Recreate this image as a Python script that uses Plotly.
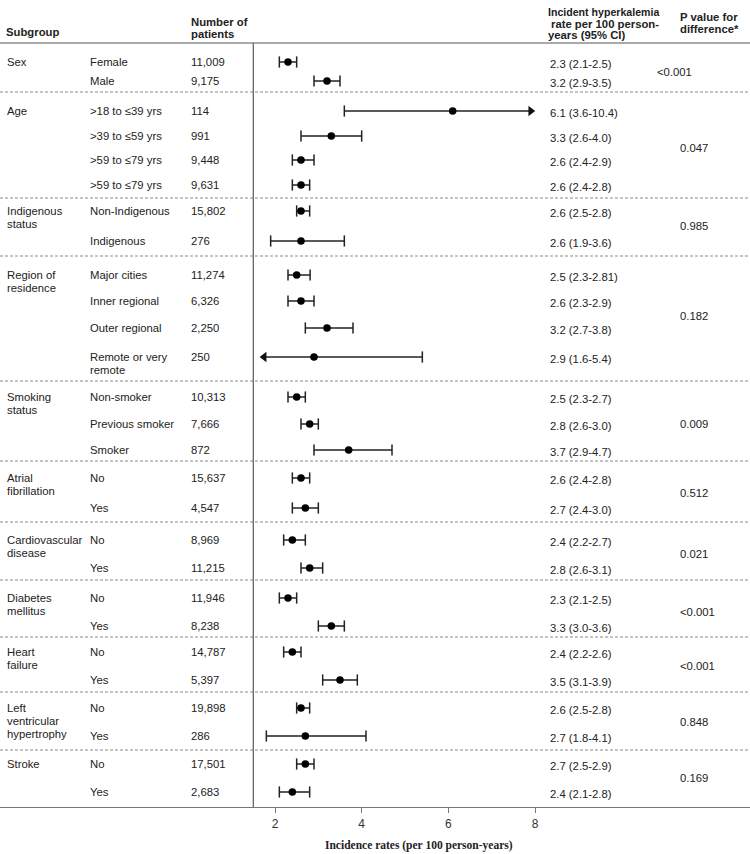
import plotly.graph_objects as go

# ---------------- data ----------------
GROUP_LABELS = [["Sex"], ["Age"], ["Indigenous", "status"], ["Region of", "residence"],
                ["Smoking", "status"], ["Atrial", "fibrillation"], ["Cardiovascular", "disease"],
                ["Diabetes", "mellitus"], ["Heart", "failure"],
                ["Left", "ventricular", "hypertrophy"], ["Stroke"]]
P_VALUES = ["<0.001", "0.047", "0.985", "0.182", "0.009", "0.512", "0.021",
            "<0.001", "<0.001", "0.848", "0.169"]

ROW_GROUP = [0, 0, 1, 1, 1, 1, 2, 2, 3, 3, 3, 3, 4, 4, 4, 5, 5, 6, 6, 7, 7, 8, 8, 9, 9, 10, 10]
SUBGROUPS = [["Female"], ["Male"], [">18 to \u226439 yrs"], [">39 to \u226459 yrs"],
             [">59 to \u226479 yrs"], [">59 to \u226479 yrs"], ["Non-Indigenous"], ["Indigenous"],
             ["Major cities"], ["Inner regional"], ["Outer regional"], ["Remote or very", "remote"],
             ["Non-smoker"], ["Previous smoker"], ["Smoker"], ["No"], ["Yes"], ["No"], ["Yes"],
             ["No"], ["Yes"], ["No"], ["Yes"], ["No"], ["Yes"], ["No"], ["Yes"]]
N_PATIENTS = ["11,009", "9,175", "114", "991", "9,448", "9,631", "15,802", "276",
              "11,274", "6,326", "2,250", "250", "10,313", "7,666", "872", "15,637", "4,547",
              "8,969", "11,215", "11,946", "8,238", "14,787", "5,397", "19,898", "286",
              "17,501", "2,683"]
RATE = [2.3, 3.2, 6.1, 3.3, 2.6, 2.6, 2.6, 2.6, 2.5, 2.6, 3.2, 2.9, 2.5, 2.8, 3.7,
        2.6, 2.7, 2.4, 2.8, 2.3, 3.3, 2.4, 3.5, 2.6, 2.7, 2.7, 2.4]
CI_LO = [2.1, 2.9, 3.6, 2.6, 2.4, 2.4, 2.5, 1.9, 2.3, 2.3, 2.7, 1.6, 2.3, 2.6, 2.9,
         2.4, 2.4, 2.2, 2.6, 2.1, 3.0, 2.2, 3.1, 2.5, 1.8, 2.5, 2.1]
CI_HI = [2.5, 3.5, 10.4, 4.0, 2.9, 2.8, 2.8, 3.6, 2.81, 2.9, 3.8, 5.4, 2.7, 3.0, 4.7,
         2.8, 3.0, 2.7, 3.1, 2.5, 3.6, 2.6, 3.9, 2.8, 4.1, 2.9, 2.8]
CI_TEXT = ["2.3 (2.1-2.5)", "3.2 (2.9-3.5)", "6.1 (3.6-10.4)", "3.3 (2.6-4.0)", "2.6 (2.4-2.9)",
           "2.6 (2.4-2.8)", "2.6 (2.5-2.8)", "2.6 (1.9-3.6)", "2.5 (2.3-2.81)", "2.6 (2.3-2.9)",
           "3.2 (2.7-3.8)", "2.9 (1.6-5.4)", "2.5 (2.3-2.7)", "2.8 (2.6-3.0)", "3.7 (2.9-4.7)",
           "2.6 (2.4-2.8)", "2.7 (2.4-3.0)", "2.4 (2.2-2.7)", "2.8 (2.6-3.1)", "2.3 (2.1-2.5)",
           "3.3 (3.0-3.6)", "2.4 (2.2-2.6)", "3.5 (3.1-3.9)", "2.6 (2.5-2.8)", "2.7 (1.8-4.1)",
           "2.7 (2.5-2.9)", "2.4 (2.1-2.8)"]
X_TICKS = [2, 4, 6, 8]
X_TITLE = "Incidence rates (per 100 person-years)"

# ---------------- layout constants (pixels) ----------------
TEXT_PAD = 2            # annotation inner padding
W, H = 750, 854
PLOT_BOTTOM = 807
PX_AT_2, PX_AT_8 = 275.0, 535.0
SCALE = (PX_AT_8 - PX_AT_2) / 6.0
X_RANGE = [2 - PX_AT_2 / SCALE, 8 + (W - PX_AT_8) / SCALE]
AXIS_X = 1.5
CLIP_LO, CLIP_HI = 1.75, 7.9

ROW_Y = [62, 81, 111, 136, 160, 185, 211, 241, 275, 301, 328, 357, 397, 424, 450, 478, 508,
         540, 568, 598, 626, 652, 680, 708, 736, 764, 792]
SEP_Y = [92, 198, 256, 381, 461, 522, 580, 637, 692, 750]
HEADER_LINE_Y = 43
LINE_GAP = 13

COL_GROUP, COL_SUB, COL_N, COL_CI, COL_P = 7, 90, 191, 550, 680
FONT = "Arial, Liberation Sans, sans-serif"
TXT = "#222222"
FS = 11.3

fig = go.Figure()

# CI segments, caps and arrows
seg_x, seg_y, cap_x, cap_y = [], [], [], []
arr_r_x, arr_r_y, arr_l_x, arr_l_y = [], [], [], []
for lo, hi, y in zip(CI_LO, CI_HI, ROW_Y):
    a = max(lo, CLIP_LO)
    b = min(hi, CLIP_HI)
    seg_x += [a, b, None]
    seg_y += [y, y, None]
    if lo >= CLIP_LO:
        cap_x.append(lo); cap_y.append(y)
    else:
        arr_l_x.append(CLIP_LO); arr_l_y.append(y)
    if hi <= CLIP_HI:
        cap_x.append(hi); cap_y.append(y)
    else:
        arr_r_x.append(CLIP_HI); arr_r_y.append(y)

fig.add_trace(go.Scatter(x=seg_x, y=seg_y, mode="lines",
                         line=dict(color="#222222", width=1.5), hoverinfo="skip"))
fig.add_trace(go.Scatter(x=cap_x, y=cap_y, mode="markers",
                         marker=dict(symbol="line-ns", size=8,
                                     line=dict(color="#222222", width=1.5)), hoverinfo="skip"))
fig.add_trace(go.Scatter(x=arr_r_x, y=arr_r_y, mode="markers",
                         marker=dict(symbol="triangle-right", size=9, color="#111111")))
fig.add_trace(go.Scatter(x=arr_l_x, y=arr_l_y, mode="markers",
                         marker=dict(symbol="triangle-left", size=9, color="#111111")))
fig.add_trace(go.Scatter(x=RATE, y=ROW_Y, mode="markers",
                         marker=dict(symbol="circle", size=7.5, color="#000000")))

ann = []


def txt(x_px, y_px, s, bold=False, size=FS, family=FONT, xanchor="left"):
    ann.append(dict(x=(x_px - TEXT_PAD) / W, xref="paper", y=y_px, yref="y",
                    text=("<b>%s</b>" % s) if bold else s,
                    showarrow=False, xanchor=xanchor, yanchor="middle",
                    font=dict(family=family, size=size, color=TXT)))


# headers
txt(6, 32, "Subgroup", bold=True)
txt(COL_N, 21.5, "Number of", bold=True)
txt(COL_N, 34, "patients", bold=True)
txt(548, 11.5, "Incident hyperkalemia", bold=True, size=10.6)
txt(551, 23.5, "rate per 100 person-", bold=True)
txt(548, 35, "years (95% CI)", bold=True)
txt(COL_P, 17, "P value for", bold=True)
txt(COL_P, 29, "difference*", bold=True)

# group labels and p-values
for g, (lines, p) in enumerate(zip(GROUP_LABELS, P_VALUES)):
    ys = [ROW_Y[i] for i, gg in enumerate(ROW_GROUP) if gg == g]
    for k, line in enumerate(lines):
        txt(COL_GROUP, ys[0] + k * LINE_GAP, line)
    px = COL_P - 23 if g == 0 else COL_P
    txt(px, (ys[0] + ys[-1]) / 2.0, p)

# row texts
for i, y in enumerate(ROW_Y):
    for k, line in enumerate(SUBGROUPS[i]):
        txt(COL_SUB, y + k * LINE_GAP, line)
    txt(COL_N, y, N_PATIENTS[i])
    txt(COL_CI, y + 1.5, CI_TEXT[i])

# axis title (below the plot area)
ann.append(dict(x=419 / W, xref="paper", y=-(845 - PLOT_BOTTOM) / PLOT_BOTTOM, yref="paper",
                text="<b>%s</b>" % X_TITLE, showarrow=False, xanchor="center", yanchor="middle",
                font=dict(family="Times New Roman, Liberation Serif, serif", size=11.5, color="#222222")))

shapes = [dict(type="line", xref="paper", x0=0, x1=1, yref="y", y0=HEADER_LINE_Y, y1=HEADER_LINE_Y,
               line=dict(color="#555555", width=1))]
for sy in SEP_Y:
    shapes.append(dict(type="line", xref="paper", x0=0, x1=1, yref="y", y0=sy, y1=sy,
                       line=dict(color="#8a8a8a", width=1, dash="3px,2px")))
shapes.append(dict(type="line", xref="x", x0=AXIS_X, x1=AXIS_X, yref="y", y0=HEADER_LINE_Y,
                   y1=PLOT_BOTTOM, line=dict(color="#666666", width=1.3)))

fig.update_layout(
    width=W, height=H, margin=dict(l=0, r=0, t=0, b=H - PLOT_BOTTOM, pad=0),
    paper_bgcolor="white", plot_bgcolor="white", showlegend=False,
    annotations=ann, shapes=shapes,
    xaxis=dict(range=X_RANGE, tickvals=X_TICKS, ticktext=[str(t) for t in X_TICKS],
               showgrid=False, zeroline=False, showline=True, linecolor="#777777", linewidth=1.3,
               ticks="outside", ticklen=5, tickcolor="#777777", tickwidth=1,
               tickfont=dict(family=FONT, size=12, color="#333333"), fixedrange=True),
    yaxis=dict(range=[PLOT_BOTTOM, 0], visible=False, fixedrange=True),
)

fig.write_html("out.html", config={"displayModeBar": False},
               post_script="document.body.style.margin='0px';")
